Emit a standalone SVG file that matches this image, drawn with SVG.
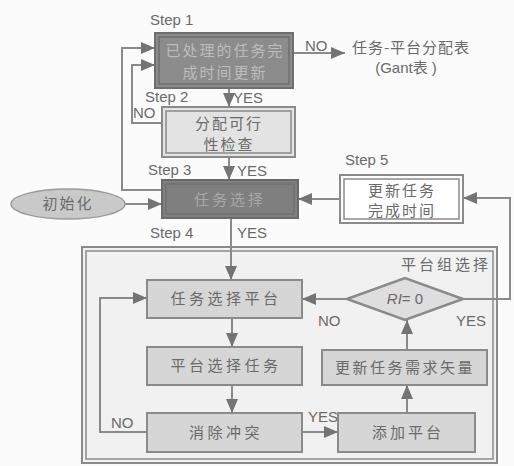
<svg xmlns="http://www.w3.org/2000/svg" width="514" height="466" viewBox="0 0 514 466">
<style>
.lbl{font-family:"Liberation Sans",Arial,sans-serif;font-size:15px;fill:#6a6a6a}
.cn{font-family:"Noto Sans CJK SC","Noto Sans",sans-serif;font-size:15px;text-anchor:middle}
.ln{fill:none;stroke:#8a8a8a;stroke-width:2}
.bx{stroke:#8a8a8a;stroke-width:2}
.in{fill:none;stroke:#8a8a8a;stroke-width:1.5}
</style>
<defs>
<marker id="ah" markerUnits="userSpaceOnUse" markerWidth="16" markerHeight="14" refX="14" refY="6" orient="auto">
<path d="M0,0 L14,6 L0,12 z" fill="#747474"/>
</marker>
</defs>
<rect width="514" height="466" fill="#fbfbfb"/>

<g id="group-box">
<rect x="82" y="247" width="415" height="216" fill="#f1f1f1" stroke="#8a8a8a" stroke-width="2"/>
<rect x="86" y="251" width="407" height="208" class="in"/>
<text x="446" y="270" class="cn" fill="#6a6a6a" style="letter-spacing:3px">平台组选择</text>
</g>

<g id="connectors">
<path class="ln" d="M293,53 L345,53" marker-end="url(#ah)"/>
<path class="ln" d="M229,88 L229,107" marker-end="url(#ah)"/>
<path class="ln" d="M229,157 L229,180" marker-end="url(#ah)"/>
<path class="ln" d="M162,190 L122,190 L122,48 L155,48" marker-end="url(#ah)"/>
<path class="ln" d="M163,123 L132,123 L132,65 L155,65" marker-end="url(#ah)"/>
<path class="ln" d="M125,204 L162,204" marker-end="url(#ah)"/>
<path class="ln" d="M340,199 L298,199" marker-end="url(#ah)"/>
<path class="ln" d="M463,299 L510,299 L510,198 L463,198" marker-end="url(#ah)" stroke-width="1.5"/>
<path class="ln" d="M231,218 L231,280" marker-end="url(#ah)"/>
<path class="ln" d="M347,299 L302,299" marker-end="url(#ah)"/>
<path class="ln" d="M232,318 L232,347" marker-end="url(#ah)"/>
<path class="ln" d="M232,385 L232,413" marker-end="url(#ah)"/>
<path class="ln" d="M302,432 L338,432" marker-end="url(#ah)"/>
<path class="ln" d="M407,413 L407,385" marker-end="url(#ah)"/>
<path class="ln" d="M407,350 L407,320" marker-end="url(#ah)"/>
<path class="ln" d="M147,432 L100,432 L100,298 L147,298" marker-end="url(#ah)" stroke-width="1.5"/>
<text x="305" y="51" class="lbl">NO</text>
<text x="233" y="103" class="lbl">YES</text>
<text x="133" y="118" class="lbl">NO</text>
<text x="237" y="176" class="lbl">YES</text>
<text x="237" y="238" class="lbl">YES</text>
<text x="318" y="326" class="lbl">NO</text>
<text x="456" y="326" class="lbl">YES</text>
<text x="308" y="422" class="lbl">YES</text>
<text x="111" y="428" class="lbl">NO</text>
</g>

<g id="step1">
<text x="150" y="25" class="lbl">Step 1</text>
<rect x="155" y="33" width="138" height="55" fill="#8c8c8c" stroke="#6e6e6e" stroke-width="2"/>
<rect x="159" y="37" width="130" height="47" fill="none" stroke="#6e6e6e" stroke-width="1.5"/>
<text x="225" y="56" class="cn" fill="#bdbdbd" style="letter-spacing:2px">已处理的任务完</text>
<text x="225" y="78" class="cn" fill="#bdbdbd" style="letter-spacing:2px">成时间更新</text>
</g>

<g id="gant">
<text x="411" y="53" class="cn" fill="#6a6a6a" style="letter-spacing:1px">任务-平台分配表</text>
<text x="406" y="73" class="cn" fill="#6a6a6a" style="font-family:'Liberation Sans','Noto Sans CJK SC',sans-serif">(Gant表 )</text>
</g>

<g id="step2">
<text x="145" y="102" class="lbl">Step 2</text>
<rect x="162" y="107" width="133" height="50" fill="#e3e3e3" class="bx"/>
<rect x="166" y="111" width="125" height="42" class="in"/>
<text x="229" y="129" class="cn" fill="#6a6a6a" style="letter-spacing:2px">分配可行</text>
<text x="229" y="150" class="cn" fill="#6a6a6a" style="letter-spacing:2px">性检查</text>
</g>

<g id="step3">
<text x="148" y="175" class="lbl">Step 3</text>
<rect x="162" y="180" width="136" height="38" fill="#7f7f7f" stroke="#6a6a6a" stroke-width="2"/>
<rect x="166" y="184" width="128" height="30" fill="none" stroke="#6a6a6a" stroke-width="1"/>
<text x="230" y="205" class="cn" fill="#a8a8a8" style="letter-spacing:3px">任务选择</text>
</g>

<g id="init">
<ellipse cx="68" cy="204" rx="57" ry="15" fill="#c9c9c9" stroke="#9a9a9a" stroke-width="1.5"/>
<text x="68" y="209" class="cn" fill="#6a6a6a" style="letter-spacing:2px">初始化</text>
</g>

<g id="step5">
<text x="345" y="165" class="lbl">Step 5</text>
<rect x="340" y="175" width="123" height="48" fill="#ffffff" class="bx"/>
<rect x="344" y="179" width="115" height="40" class="in"/>
<text x="402" y="196" class="cn" fill="#6a6a6a" style="letter-spacing:2px">更新任务</text>
<text x="402" y="216" class="cn" fill="#6a6a6a" style="letter-spacing:2px">完成时间</text>
</g>

<text x="150" y="238" class="lbl">Step 4</text>

<g id="task-select-platform">
<rect x="147" y="280" width="155" height="38" fill="#d6d6d6" class="bx"/>
<text x="226" y="304" class="cn" fill="#6a6a6a" style="letter-spacing:3.5px">任务选择平台</text>
</g>
<g id="platform-select-task">
<rect x="147" y="347" width="155" height="38" fill="#d6d6d6" class="bx"/>
<text x="226" y="371" class="cn" fill="#6a6a6a" style="letter-spacing:3.5px">平台选择任务</text>
</g>
<g id="resolve-conflict">
<rect x="147" y="413" width="155" height="39" fill="#d6d6d6" class="bx"/>
<text x="226" y="438" class="cn" fill="#6a6a6a" style="letter-spacing:3.5px">消除冲突</text>
</g>
<g id="add-platform">
<rect x="338" y="413" width="137" height="39" fill="#d6d6d6" class="bx"/>
<text x="408" y="438" class="cn" fill="#6a6a6a" style="letter-spacing:3px">添加平台</text>
</g>
<g id="update-vector">
<rect x="322" y="350" width="165" height="35" fill="#d6d6d6" class="bx"/>
<text x="405" y="373" class="cn" fill="#6a6a6a" style="letter-spacing:2.5px">更新任务需求矢量</text>
</g>
<g id="decision">
<polygon points="347,299 405,278 463,299 405,320" fill="#dedede" stroke="#8a8a8a" stroke-width="2.5"/>
<text x="405" y="304" class="lbl" text-anchor="middle" font-size="14"><tspan font-style="italic">RI</tspan>= 0</text>
</g>
</svg>
